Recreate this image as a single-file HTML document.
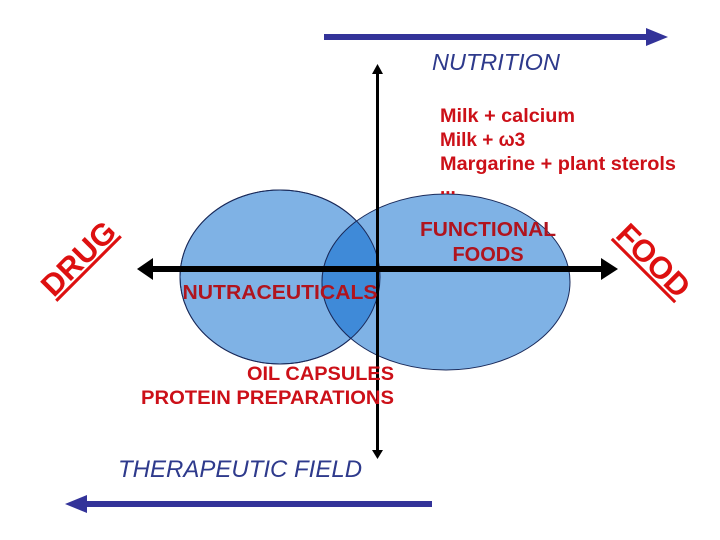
<!DOCTYPE html>
<html><head><meta charset="utf-8"><style>body{margin:0;background:#fff}svg{display:block}text{font-family:"Liberation Sans",Arial,sans-serif}</style></head><body>
<svg width="720" height="540" viewBox="0 0 720 540" xmlns="http://www.w3.org/2000/svg">
<rect width="720" height="540" fill="#fff"/>
<rect x="324" y="34" width="325" height="6" fill="#333399"/>
<polygon points="646,28 668,37 646,46" fill="#333399"/>
<text x="432" y="70" font-size="23.5" font-style="italic" fill="#2e3a8c">NUTRITION</text>
<ellipse cx="280" cy="277" rx="100" ry="87" fill="#7fb2e5" stroke="#1a2a5a" stroke-width="1"/>
<ellipse cx="446" cy="282" rx="124" ry="88" fill="#7fb2e5" stroke="#1a2a5a" stroke-width="1"/>
<clipPath id="c"><ellipse cx="280" cy="277" rx="100" ry="87"/></clipPath>
<ellipse cx="446" cy="282" rx="124" ry="88" fill="#3f8ad8" stroke="#1a2a5a" stroke-width="1" clip-path="url(#c)"/>
<ellipse cx="280" cy="277" rx="100" ry="87" fill="none" stroke="#1a2a5a" stroke-width="1"/>
<rect x="376" y="70" width="3" height="384" fill="#000"/>
<polygon points="372,74 377.5,64 383,74" fill="#000"/>
<polygon points="372,450 377.5,459 383,450" fill="#000"/>
<rect x="150" y="266" width="455" height="6" fill="#000"/>
<polygon points="153,258 137,269 153,280" fill="#000"/>
<polygon points="601,258 618,269 601,280" fill="#000"/>
<rect x="84" y="501" width="348" height="6" fill="#333399"/>
<polygon points="87,495 65,504 87,513" fill="#333399"/>
<text x="118" y="477" font-size="24" font-style="italic" fill="#2e3a8c">THERAPEUTIC FIELD</text>
<g fill="#cc1018" font-size="19" font-weight="bold">
<text x="440" y="122" textLength="135" lengthAdjust="spacingAndGlyphs">Milk + calcium</text>
<text x="440" y="146">Milk + ω3</text>
<text x="440" y="170" textLength="236" lengthAdjust="spacingAndGlyphs">Margarine + plant sterols</text>
<text x="440" y="194">...</text>
</g>
<g fill="#b0141e" font-size="20" font-weight="bold" text-anchor="middle">
<text x="488" y="236" textLength="136" lengthAdjust="spacingAndGlyphs">FUNCTIONAL</text>
<text x="488" y="261">FOODS</text>
<text x="280" y="299" textLength="195" lengthAdjust="spacingAndGlyphs">NUTRACEUTICALS</text>
</g>
<g fill="#cc1018" font-size="19" font-weight="bold">
<text x="247" y="380" textLength="147" lengthAdjust="spacingAndGlyphs">OIL CAPSULES</text>
<text x="141" y="404" textLength="253" lengthAdjust="spacingAndGlyphs">PROTEIN PREPARATIONS</text>
</g>
<g fill="#dd1010" font-size="31" font-weight="bold">
<text x="0" y="0" text-anchor="middle" transform="translate(86,266) rotate(-45)" text-decoration="underline">DRUG</text>
<text x="0" y="0" text-anchor="middle" transform="translate(646,268) rotate(45)" text-decoration="underline">FOOD</text>
</g>
</svg>
</body></html>
